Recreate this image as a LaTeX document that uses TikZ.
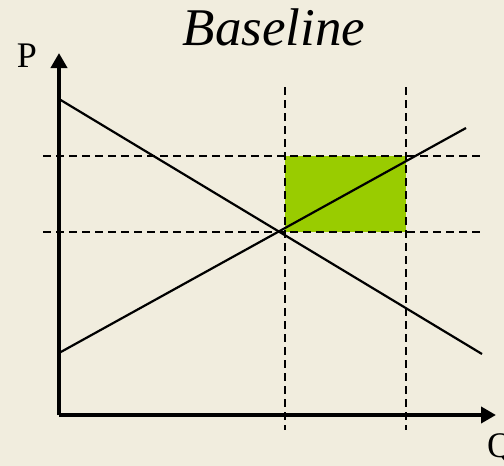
\documentclass[tikz,border=0pt]{standalone}
\usepackage{fontspec}
\setmainfont{Liberation Serif}
\usetikzlibrary{arrows.meta}
\definecolor{bgbeige}{HTML}{F1EDDE}
\definecolor{gaingreen}{HTML}{99CC00}
\tikzset{
  axisline/.style={line width=4.5pt,-{Triangle[length=15pt,width=16pt]}},
  curveline/.style={line width=2.2pt},
  guideline/.style={line width=2.2pt,dash pattern=on 8pt off 5pt}
}
\begin{document}
\begin{tikzpicture}[x=1pt,y=-1pt]
\fill[bgbeige] (0,0) rectangle (504,466);
\useasboundingbox (0,0) rectangle (504,466);

% shaded area
\fill[gaingreen] (285,156) rectangle (406,232);

% dashed guides
\draw[guideline] (43,156) -- (482,156);
\draw[guideline] (43,232) -- (482,232);
\draw[guideline] (285,87) -- (285,430);
\draw[guideline] (406,87) -- (406,430);

% demand and supply
\coordinate (dstart) at (59,99);
\coordinate (dend) at (482,354);
\coordinate (sstart) at (59,353);
\coordinate (send) at (466,128);
\draw[curveline] (dstart) -- (dend);
\draw[curveline] (sstart) -- (send);

% axes
\coordinate (origin) at (59,415);
\coordinate (ytip) at (59,53);
\coordinate (xtip) at (496,415);
\draw[axisline] (origin) -- (ytip);
\draw[axisline] (origin) -- (xtip);

\node[anchor=base,inner sep=0pt,font=\fontsize{53}{60}\selectfont\itshape] (title) at (274,45) {Baseline};
\node[anchor=base,inner sep=0pt,font=\fontsize{36}{40}\selectfont] (plabel) at (27,67) {P};
\node[anchor=base west,inner sep=0pt,font=\fontsize{36}{40}\selectfont] (qlabel) at (487,457) {Q};
\end{tikzpicture}
\end{document}
